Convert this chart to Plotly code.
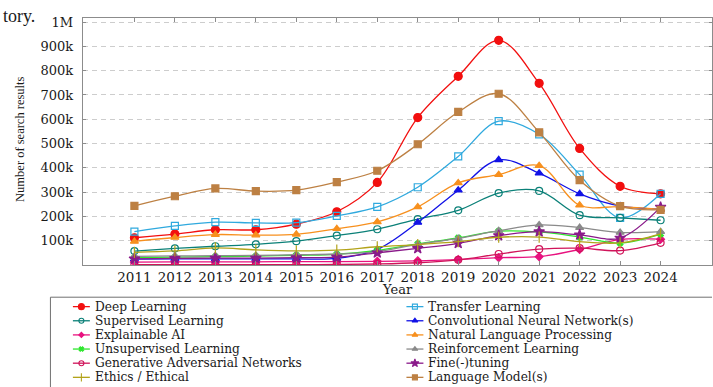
import plotly.graph_objects as go

# ---------------- data (values in thousands of search results) ----------------
years = list(range(2011, 2025))

deep_learning = [112, 127, 145, 145, 168, 219, 340, 607, 777, 925, 748, 480, 324, 293]
transfer_learning = [137, 161, 176, 173, 174, 202, 239, 320, 447, 592, 538, 372, 194, 293]
supervised_learning = [57, 68, 77, 85, 98, 121, 147, 189, 225, 296, 305, 205, 194, 184]
cnn = [24, 25, 25, 25, 25, 27, 64, 175, 308, 433, 378, 293, 243, 230]
explainable_ai = [12, 13, 13, 13, 14, 14, 15, 17, 22, 30, 34, 64, 105, 106]
nlp = [97, 113, 125, 123, 126, 149, 177, 239, 338, 372, 409, 246, 240, 229]
unsupervised_learning = [30, 32, 34, 36, 40, 44, 60, 87, 111, 139, 136, 115, 90, 127]
reinforcement_learning = [35, 37, 38, 39, 42, 45, 55, 85, 109, 141, 165, 154, 134, 137]
gan = [1, 1, 1, 1, 1, 2, 4, 9, 21, 45, 65, 69, 59, 91]
fine_tuning = [25, 27, 28, 28, 30, 32, 50, 68, 89, 121, 137, 124, 111, 238]
ethics = [52, 58, 70, 62, 58, 61, 75, 84, 96, 114, 115, 96, 91, 128]
language_models = [243, 283, 315, 304, 308, 341, 388, 497, 630, 705, 546, 349, 242, 227]

series_names = [
    "Deep Learning", "Transfer Learning",
    "Supervised Learning", "Convolutional Neural Network(s)",
    "Explainable AI", "Natural Language Processing",
    "Unsupervised Learning", "Reinforcement Learning",
    "Generative Adversarial Networks", "Fine(-)tuning",
    "Ethics / Ethical", "Language Model(s)",
]
series_values = [
    deep_learning, transfer_learning,
    supervised_learning, cnn,
    explainable_ai, nlp,
    unsupervised_learning, reinforcement_learning,
    gan, fine_tuning,
    ethics, language_models,
]

y_tick_values = [100, 200, 300, 400, 500, 600, 700, 800, 900, 1000]
y_tick_labels = ["100k", "200k", "300k", "400k", "500k", "600k", "700k", "800k", "900k", "1M"]

# ---------------- styles ----------------
colors = [
    "#f20f0f", "#2fa9de",
    "#0b8078", "#1212e6",
    "#e8127f", "#f7901e",
    "#2ee62e", "#8a8a8a",
    "#d0145a", "#8a1a8a",
    "#b3a31a", "#bd8043",
]
symbols = [
    "circle", "square-open",
    "circle-open", "triangle-up",
    "diamond", "triangle-up",
    "x", "triangle-up",
    "circle-open", "star",
    "line-ns-open", "square",
]
sizes = [8, 7, 7, 7, 6, 7, 5, 7, 7, 8, 8, 7]

W, H = 713, 387
PLOT_L, PLOT_T, PLOT_B = 83, 15, 264
SERIF_WIDE = "DejaVu Serif"
SERIF = "Liberation Serif"
TXT = "#1a1a1a"
FRAME = "#8c8c8c"

fig = go.Figure()

for name, vals, col, sym, sz in zip(series_names, series_values, colors, symbols, sizes):
    fig.add_trace(go.Scatter(
        x=years, y=[v * 1000 for v in vals], name=name,
        mode="lines+markers",
        line=dict(color=col, width=1.3, shape="spline", smoothing=1.0),
        marker=dict(symbol=sym, size=sz, color=col, line=dict(color=col, width=1.2)),
        showlegend=False, xaxis="x", yaxis="y",
    ))

# ---------------- legend drawn in a pixel-scaled overlay subplot ----------------
LEG_X0, LEG_COL_STEP = 73, 334
LEG_Y0, LEG_ROW_STEP = 306, 14.25
SYM_LEN = 17
annotations = []
for i, (name, col, sym, sz) in enumerate(zip(series_names, colors, symbols, sizes)):
    row, c = divmod(i, 2)
    x0 = LEG_X0 + c * LEG_COL_STEP
    yy = LEG_Y0 + row * LEG_ROW_STEP
    fig.add_trace(go.Scatter(
        x=[x0, x0 + SYM_LEN], y=[yy, yy], mode="lines",
        line=dict(color=col, width=1.3), showlegend=False,
        hoverinfo="skip", xaxis="x2", yaxis="y2",
    ))
    fig.add_trace(go.Scatter(
        x=[x0 + SYM_LEN / 2], y=[yy], mode="markers",
        marker=dict(symbol=sym, size=max(sz - 2, 4), color=col, line=dict(color=col, width=1.1)),
        showlegend=False, hoverinfo="skip", xaxis="x2", yaxis="y2",
    ))
    annotations.append(dict(
        x=x0 + SYM_LEN + 3, y=yy, xref="x2", yref="y2", text=name,
        showarrow=False, xanchor="left", yanchor="middle",
        font=dict(family=SERIF_WIDE, size=12.2, color=TXT),
    ))

# axis titles and caption fragment
annotations.append(dict(x=398, y=289, xref="x2", yref="y2", text="Year", showarrow=False,
                        xanchor="center", yanchor="middle",
                        font=dict(family=SERIF_WIDE, size=13, color=TXT)))
annotations.append(dict(x=20, y=137, xref="x2", yref="y2", text="Number of search results",
                        showarrow=False, textangle=-90, xanchor="center", yanchor="middle",
                        font=dict(family=SERIF, size=12.5, color=TXT)))
annotations.append(dict(x=1, y=0.5, xref="x2", yref="y2", text="tory.", showarrow=False,
                        xanchor="left", yanchor="top",
                        font=dict(family=SERIF, size=18, color=TXT)))

shapes = [dict(type="rect", xref="x2", yref="y2", x0=50.5, y0=296.5, x1=760, y1=430,
               line=dict(color="#707070", width=1), fillcolor="rgba(0,0,0,0)", layer="above")]

fig.update_layout(
    width=W, height=H,
    margin=dict(l=0, r=0, t=0, b=0),
    paper_bgcolor="white", plot_bgcolor="rgba(0,0,0,0)",
    showlegend=False,
    annotations=annotations, shapes=shapes,
    xaxis=dict(
        domain=[PLOT_L / W, 1], anchor="y",
        range=[2009.727, 2025.27],
        tickmode="array", tickvals=years, ticktext=[str(y) for y in years],
        tickfont=dict(family=SERIF_WIDE, size=13.5, color=TXT),
        showline=True, linecolor=FRAME, linewidth=1.2, mirror="ticks",
        ticks="inside", ticklen=4, tickcolor=FRAME, tickwidth=1,
        showgrid=False, zeroline=False,
    ),
    yaxis=dict(
        domain=[(H - PLOT_B) / H, (H - PLOT_T) / H], anchor="x",
        range=[0, 1017500],
        tickmode="array", tickvals=[v * 1000 for v in y_tick_values], ticktext=y_tick_labels,
        tickfont=dict(family=SERIF_WIDE, size=13, color=TXT),
        showline=True, linecolor=FRAME, linewidth=1.2, mirror="ticks",
        ticks="inside", ticklen=3, tickcolor=FRAME, tickwidth=1,
        showgrid=True, gridcolor="#cdcdcd", gridwidth=1, griddash="5px,4px",
        zeroline=False, ticklabelstandoff=6,
    ),
    xaxis2=dict(domain=[0, 1], range=[0, W], visible=False, anchor="y2", fixedrange=True),
    yaxis2=dict(domain=[0, 1], range=[H, 0], visible=False, anchor="x2", fixedrange=True),
)

fig.write_html("out.html")
